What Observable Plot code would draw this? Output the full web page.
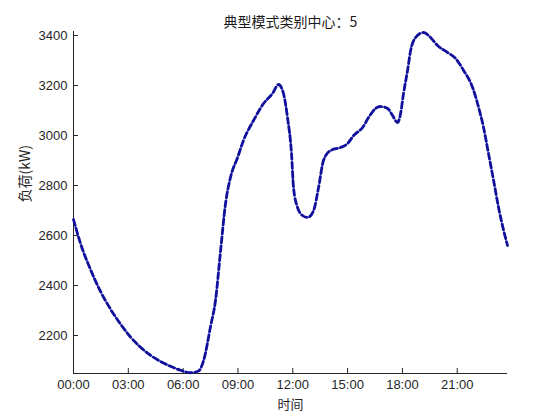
<!DOCTYPE html>
<html>
<head>
<meta charset="utf-8">
<script src="https://cdn.jsdelivr.net/npm/d3@7"></script>
<script src="https://cdn.jsdelivr.net/npm/@observablehq/plot@0.6"></script>
<style>
  body { margin: 0; background: #fff; }
</style>
</head>
<body>
<div id="chart"></div>
<script>
// hours of the day
const hours = [0, 0.38, 0.93, 1.48, 2.03, 2.57, 3.12, 3.67, 4.21, 4.76, 5.31, 5.86, 6.40, 6.84, 7.12, 7.50, 7.77, 8.05, 8.32, 8.59, 8.98, 9.30, 9.85, 10.40, 10.89, 11.22, 11.49, 11.71, 11.93, 12.04, 12.26, 12.53, 12.81, 13.14, 13.41, 13.68, 14.07, 14.61, 15.00, 15.33, 15.82, 16.15, 16.53, 16.80, 17.19, 17.46, 17.73, 17.90, 18.06, 18.28, 18.45, 18.72, 19.16, 19.54, 19.92, 20.47, 20.91, 21.35, 21.84, 22.17, 22.44, 22.71, 22.99, 23.26, 23.54, 23.75];
// load (kW)
const load = [2664, 2569, 2464, 2376, 2305, 2246, 2194, 2153, 2121, 2096, 2077, 2061, 2051, 2058, 2100, 2236, 2340, 2540, 2728, 2832, 2912, 2980, 3060, 3128, 3168, 3204, 3168, 3072, 2928, 2792, 2712, 2680, 2672, 2700, 2792, 2900, 2940, 2952, 2968, 3000, 3032, 3072, 3108, 3116, 3108, 3080, 3052, 3088, 3168, 3260, 3340, 3392, 3412, 3392, 3360, 3332, 3308, 3260, 3192, 3112, 3032, 2928, 2820, 2712, 2620, 2560];
const xTicks = [0, 3, 6, 9, 12, 15, 18, 21];
const yTicks = [2200, 2400, 2600, 2800, 3000, 3200, 3400];
const title = "典型模式类别中心：5";
const xLabel = "时间";
const yLabel = "负荷(kW)";

const data = hours.map((t, i) => ({t, v: load[i]}));
const yMin = 2048, yMax = 3416, xMax = 23.75;
const axisColor = "#262626";
const fmt = h => String(h).padStart(2, "0") + ":00";

const chart = Plot.plot({
  width: 560,
  height: 420,
  marginLeft: 73,
  marginRight: 53,
  marginTop: 31,
  marginBottom: 47,
  style: {fontFamily: "'Liberation Sans', Arial, 'Noto Sans CJK SC', sans-serif", fontSize: "13px", color: axisColor, background: "#fff"},
  x: {domain: [0, xMax]},
  y: {domain: [yMin, yMax]},
  marks: [
    Plot.axisX(xTicks, {tickSize: 0, tickPadding: 6, tickFormat: fmt, label: null, fontSize: 13, fill: axisColor}),
    Plot.axisY(yTicks, {tickSize: 0, tickPadding: 6, tickFormat: d => String(d), label: null, fontSize: 13, fill: axisColor}),
    Plot.ruleX(xTicks, {x: d => d, y1: yMin, y2: yMin + 20, stroke: axisColor}),
    Plot.ruleY(yTicks, {y: d => d, x1: 0, x2: 0.27, stroke: axisColor}),
    Plot.ruleX([0], {stroke: axisColor}),
    Plot.ruleY([yMin], {stroke: axisColor}),
    Plot.line(data, {x: "t", y: "v", curve: "monotone-x", stroke: "#10109c", strokeWidth: 2.8, strokeDasharray: "6,3"}),
    Plot.text([title], {frameAnchor: "top", dy: -14, fontSize: 14, fill: "#1a1a1a", fontFamily: "'Noto Sans CJK SC', 'Liberation Sans', sans-serif"}),
    Plot.text([xLabel], {frameAnchor: "bottom", dy: 35, fontSize: 13, fill: axisColor, fontFamily: "'Noto Sans CJK SC', sans-serif"}),
    Plot.text([yLabel], {frameAnchor: "left", dx: -48, rotate: -90, fontSize: 14, fill: axisColor, fontFamily: "'Noto Sans CJK SC', 'Liberation Sans', sans-serif"})
  ]
});
document.getElementById("chart").appendChild(chart);
</script>
</body>
</html>
